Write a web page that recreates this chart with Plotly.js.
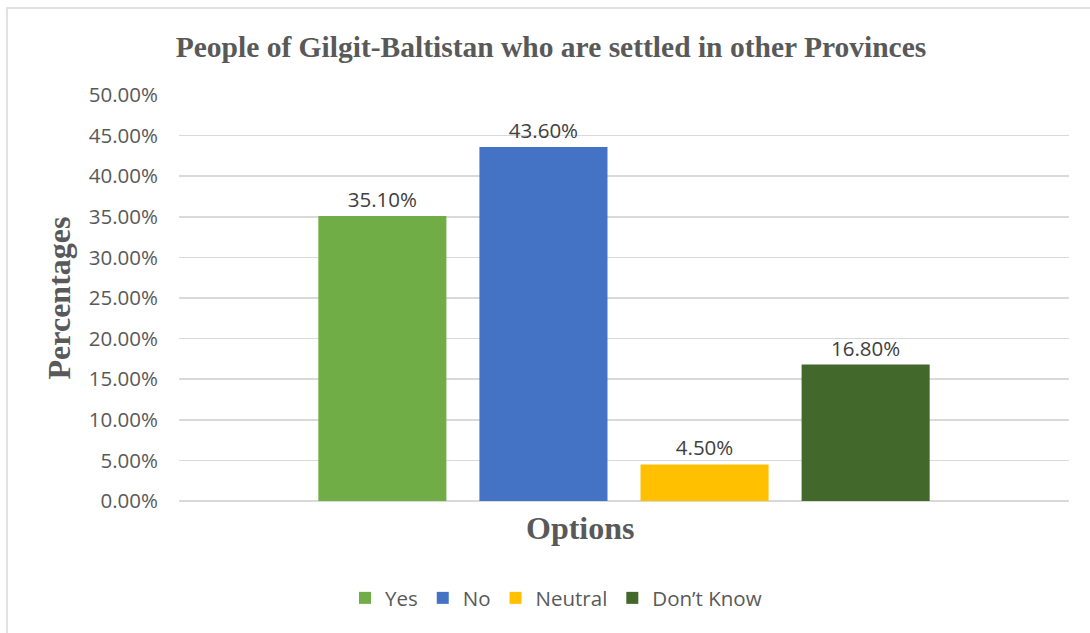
<!DOCTYPE html>
<html>
<head>
<meta charset="utf-8">
<script src="https://cdn.plot.ly/plotly-3.0.1.min.js"></script>
<style>
html,body{margin:0;padding:0;background:#fff;}
#chart{width:1090px;height:633px;}
</style>
</head>
<body>
<div id="chart"></div>
<script>
const categories = [""];
const seriesNames = ["Yes", "No", "Neutral", "Don’t Know"];
const seriesValues = [0.351, 0.436, 0.045, 0.168];
const seriesColors = ["#70ad47", "#4472c4", "#ffc000", "#43682b"];
const yTickValues = [0, 0.05, 0.10, 0.15, 0.20, 0.25, 0.30, 0.35, 0.40, 0.45, 0.50];

const traces = seriesNames.map((name, i) => ({
  type: "bar",
  name: name,
  x: categories,
  y: [seriesValues[i]],
  marker: {color: seriesColors[i]},
  texttemplate: "%{y:.2%}",
  textposition: "outside",
  cliponaxis: false,
  textfont: {family: "Open Sans, sans-serif", size: 20.5, color: "#404040"},
  hoverinfo: "skip"
}));

const layout = {
  width: 1090,
  height: 633,
  margin: {l: 179, r: 21, t: 95, b: 132},
  paper_bgcolor: "#ffffff",
  plot_bgcolor: "#ffffff",
  barmode: "group",
  bargap: 0.276,
  bargroupgap: 0.205,
  title: {
    text: "People of Gilgit-Baltistan who are settled in other Provinces",
    font: {family: "Liberation Serif, Times New Roman, serif", size: 29.5, color: "#595959", weight: "bold"},
    x: 0.5055, xanchor: "center",
    y: 0.926, yanchor: "middle"
  },
  xaxis: {
    showticklabels: false,
    showgrid: false,
    zeroline: false,
    showline: false,
    ticks: ""
  },
  yaxis: {
    range: [0, 0.5],
    tickvals: yTickValues,
    tickformat: ".2%",
    tickfont: {family: "Open Sans, sans-serif", size: 20.5, color: "#595959"},
    ticklabelstandoff: 20,
    gridcolor: "#d9d9d9",
    gridwidth: 1.5,
    zeroline: true,
    zerolinecolor: "#d9d9d9",
    zerolinewidth: 1.5,
    showline: false,
    ticks: "",
    ticklen: 0,
    title: {
      text: "Percentages",
      font: {family: "Liberation Serif, Times New Roman, serif", size: 32, color: "#595959", weight: "bold"},
      standoff: 8
    }
  },
  legend: {
    orientation: "h",
    x: 0.4236, xanchor: "center",
    y: -0.239, yanchor: "middle",
    font: {family: "Open Sans, sans-serif", size: 20.5, color: "#595959"},
    itemwidth: 30,
    traceorder: "normal"
  },
  annotations: [{
    text: "Options",
    xref: "paper", yref: "paper",
    x: (580 - 179) / 890, y: (501 - 528) / 406,
    xanchor: "center", yanchor: "middle",
    showarrow: false,
    font: {family: "Liberation Serif, Times New Roman, serif", size: 32, color: "#595959", weight: "bold"}
  }],
  shapes: [{
    type: "rect",
    xref: "paper", yref: "paper",
    x0: (7 - 179) / 890, x1: (1100 - 179) / 890,
    y0: (501 - 650) / 406, y1: (501 - 8) / 406,
    line: {color: "#d9d9d9", width: 1.5},
    fillcolor: "rgba(0,0,0,0)",
    layer: "below"
  }],
  showlegend: true
};

Plotly.newPlot("chart", traces, layout, {displayModeBar: false, staticPlot: true});
</script>
</body>
</html>
